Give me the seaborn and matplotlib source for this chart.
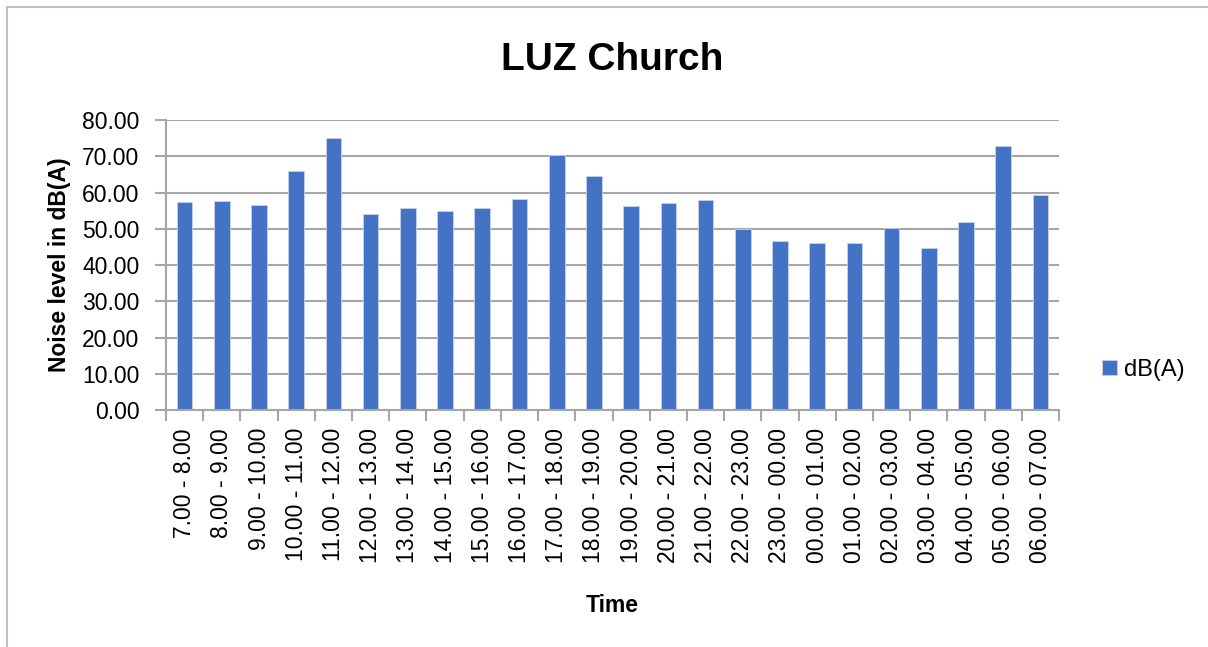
import matplotlib
matplotlib.use("Agg")
import matplotlib.pyplot as plt
import seaborn as sns
import pandas as pd
from matplotlib.lines import Line2D

# Hourly noise readings at LUZ Church
time_slots = [
    "7.00 - 8.00", "8.00 - 9.00", "9.00 - 10.00", "10.00 - 11.00",
    "11.00 - 12.00", "12.00 - 13.00", "13.00 - 14.00", "14.00 - 15.00",
    "15.00 - 16.00", "16.00 - 17.00", "17.00 - 18.00", "18.00 - 19.00",
    "19.00 - 20.00", "20.00 - 21.00", "21.00 - 22.00", "22.00 - 23.00",
    "23.00 - 00.00", "00.00 - 01.00", "01.00 - 02.00", "02.00 - 03.00",
    "03.00 - 04.00", "04.00 - 05.00", "05.00 - 06.00", "06.00 - 07.00",
]
noise_db = [
    57.4, 57.7, 56.6, 65.8, 75.1, 54.1, 55.6, 54.8,
    55.6, 58.1, 70.3, 64.6, 56.4, 57.0, 57.8, 49.8,
    46.5, 46.1, 46.1, 50.3, 44.8, 51.9, 72.8, 59.2,
]
series_name = "dB(A)"
y_ticks = [0, 10, 20, 30, 40, 50, 60, 70, 80]

BAR_BLUE = "#4472C4"
GRID_GRAY = "#a6a6a6"

sns.set_theme(style="white")
plt.rcParams["font.family"] = ["Liberation Sans", "DejaVu Sans"]
plt.rcParams["text.color"] = "black"
plt.rcParams["axes.labelcolor"] = "black"
plt.rcParams["xtick.color"] = "black"
plt.rcParams["ytick.color"] = "black"

df = pd.DataFrame({"Time": time_slots, "Noise": noise_db,
                   "Series": [series_name] * len(time_slots)})

fig = plt.figure(figsize=(12.08, 6.47), dpi=100)
ax = fig.add_axes([0.1374, 0.3663, 0.8767 - 0.1374, 0.8145 - 0.3663])

sns.barplot(data=df, x="Time", y="Noise", hue="Series", palette=[BAR_BLUE],
            saturation=1, width=0.42, dodge=False, ax=ax, legend=True,
            edgecolor="#c5d3ee", linewidth=0.6, zorder=3)

n = len(time_slots)
ax.set_xlim(-0.5, n - 0.5)
ax.set_ylim(0, 80)
ax.set_yticks(y_ticks)
ax.set_yticklabels([f"{v:.2f}" for v in y_ticks], fontsize=16.5)
ax.yaxis.grid(True, color=GRID_GRAY, linewidth=1.5, zorder=0)
ax.xaxis.grid(False)

# category labels without ticks; tick marks sit between categories
ax.set_xticks(range(n))
ax.set_xticklabels(time_slots, rotation=90, fontsize=16.5, va="top", ha="center")
ax.tick_params(axis="x", which="major", length=0, pad=13)
ax.set_xticks([i - 0.5 for i in range(n + 1)], minor=True)
ax.tick_params(axis="x", which="minor", length=8, width=1.5, color=GRID_GRAY,
               direction="out", bottom=True)
ax.tick_params(axis="y", length=8, width=1.5, color=GRID_GRAY,
               labelcolor="black", direction="out", left=True, pad=11)

for side in ["top", "right"]:
    ax.spines[side].set_visible(False)
for side in ["left", "bottom"]:
    ax.spines[side].set_color(GRID_GRAY)
    ax.spines[side].set_linewidth(1.5)
    ax.spines[side].set_zorder(4)

ax.set_xlabel("Time", fontsize=16.5, fontweight="bold", labelpad=22)
ax.set_ylabel("Noise level in dB(A)", fontsize=16.5, fontweight="bold", labelpad=8)
ax.set_title("LUZ Church", fontsize=28, fontweight="bold", pad=36)

handles, labels = ax.get_legend_handles_labels()
ax.legend(handles, labels, loc="center left", bbox_to_anchor=(0.895, 0.428),
          bbox_transform=fig.transFigure, frameon=False, fontsize=17,
          handlelength=0.6, handleheight=0.6, handletextpad=0.3)

# chart frame
fig.add_artist(Line2D([7 / 1208, 7 / 1208], [0, 1 - 7 / 647],
                      transform=fig.transFigure, color="#bfbfbf", linewidth=1.5))
fig.add_artist(Line2D([7 / 1208, 1], [1 - 7 / 647, 1 - 7 / 647],
                      transform=fig.transFigure, color="#bfbfbf", linewidth=1.5))

fig.savefig("out.png", dpi=100)
